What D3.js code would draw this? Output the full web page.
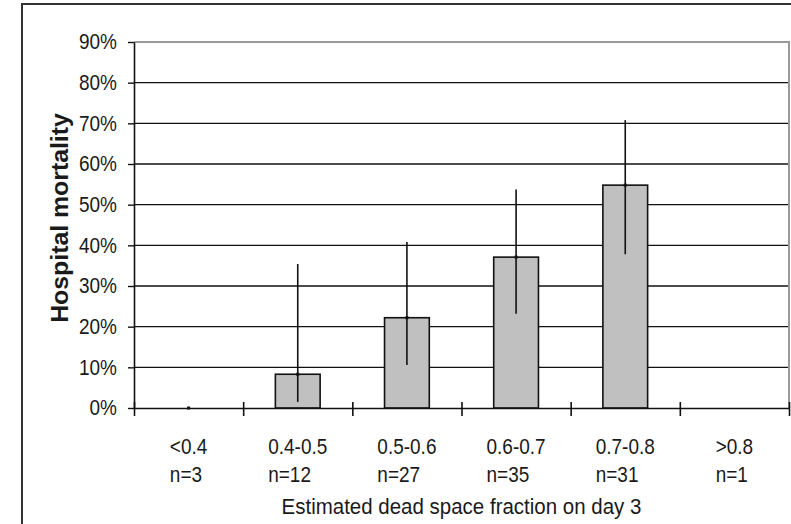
<!DOCTYPE html>
<html>
<head>
<meta charset="utf-8">
<script src="https://cdn.jsdelivr.net/npm/d3@7"></script>
<style>
  html, body { margin: 0; padding: 0; background: #fff; }
  svg { display: block; }
  text { font-family: "Liberation Sans", Arial, sans-serif; fill: #1a1a1a; }
  /* slightly tall lettering, stretched about each label's own box */
  text.tall { transform-box: fill-box; transform-origin: center; transform: scaleY(1.12); }
</style>
</head>
<body>
<script>
// Hospital mortality by estimated dead space fraction (day 3), with 95% CI
const categories = ["<0.4", "0.4-0.5", "0.5-0.6", "0.6-0.7", "0.7-0.8", ">0.8"];
const counts = [3, 12, 27, 35, 31, 1];
const mortality = [0, 8.3, 22.2, 37.1, 54.8, 0];      // percent
const ciLow = [0, 1.5, 10.6, 23.2, 37.8, null];        // percent
const ciHigh = [0, 35.4, 40.8, 53.7, 70.8, null];      // percent
const yTicks = [0, 10, 20, 30, 40, 50, 60, 70, 80, 90];
const yTitle = "Hospital mortality";
const xTitle = "Estimated dead space fraction on day 3";

const W = 791, H = 524;
const plot = { left: 134, right: 789, top: 42, bottom: 408 };

const svg = d3.select("body").append("svg")
  .attr("width", W).attr("height", H);

// outer chart frame (runs past the right and bottom edges)
svg.append("rect")
  .attr("x", 22).attr("y", 4)
  .attr("width", 820).attr("height", 560)
  .attr("fill", "none").attr("stroke", "#333").attr("stroke-width", 2);

const x = d3.scaleBand()
  .domain(categories)
  .range([plot.left, plot.right])
  .paddingInner(0.59)
  .paddingOuter(0.295);

const y = d3.scaleLinear()
  .domain([0, 90])
  .range([plot.bottom, plot.top]);

const cx = c => x(c) + x.bandwidth() / 2;

// horizontal gridlines
svg.append("g")
  .selectAll("line")
  .data(yTicks.filter(t => t > 0 && t < 90))
  .join("line")
  .attr("x1", plot.left).attr("x2", plot.right)
  .attr("y1", d => y(d)).attr("y2", d => y(d))
  .attr("stroke", "#111").attr("stroke-width", 1.4);

// plot area border (top and right)
svg.append("path")
  .attr("d", `M${plot.left},${y(90)}H${plot.right}V${y(0)}`)
  .attr("fill", "none").attr("stroke", "#9a9a9a").attr("stroke-width", 2);

// bars
svg.append("g")
  .selectAll("rect")
  .data(categories)
  .join("rect")
  .attr("x", d => x(d))
  .attr("width", x.bandwidth())
  .attr("y", (d, i) => y(mortality[i]))
  .attr("height", (d, i) => y(0) - y(mortality[i]))
  .attr("fill", "#c0c0c0")
  .attr("stroke", "#111").attr("stroke-width", 1.6);

// confidence interval lines
const ciIdx = categories.map((c, i) => i).filter(i => ciLow[i] !== null);
svg.append("g")
  .selectAll("line")
  .data(ciIdx)
  .join("line")
  .attr("x1", i => cx(categories[i])).attr("x2", i => cx(categories[i]))
  .attr("y1", i => y(ciLow[i])).attr("y2", i => y(ciHigh[i]))
  .attr("stroke", "#111").attr("stroke-width", 1.6);

// point markers at the mortality value
svg.append("g")
  .selectAll("rect")
  .data(ciIdx)
  .join("rect")
  .attr("x", i => cx(categories[i]) - 1.5)
  .attr("y", i => y(mortality[i]) - 1.5)
  .attr("width", 3).attr("height", 3)
  .attr("fill", "#111");

// y axis
const yAxis = svg.append("g")
  .attr("transform", `translate(${plot.left},0)`)
  .call(d3.axisLeft(y).tickValues(yTicks).tickSize(6).tickSizeOuter(0)
    .tickPadding(11).tickFormat(d => d + "%"));
yAxis.select(".domain").attr("stroke", "#111").attr("stroke-width", 1.6);
yAxis.selectAll(".tick line").attr("stroke", "#111").attr("stroke-width", 1.4);
yAxis.selectAll(".tick text")
  .attr("class", "tall")
  .style("font-size", "19px")
  .style("font-family", "'Liberation Sans', Arial, sans-serif")
  .attr("fill", "#1a1a1a");

// x axis with tick marks at the category boundaries
const xb = d3.scaleLinear().domain([0, categories.length]).range([plot.left, plot.right]);
const xAxis = svg.append("g")
  .attr("transform", `translate(0,${plot.bottom})`)
  .call(d3.axisBottom(xb).tickValues(d3.range(categories.length + 1))
    .tickSize(8).tickSizeOuter(0).tickFormat(""));
xAxis.select(".domain").attr("stroke", "#111").attr("stroke-width", 1.6);
xAxis.selectAll(".tick line").attr("y1", -6).attr("stroke", "#111").attr("stroke-width", 1.6);

// two-line category labels: left-aligned lines, block centred on the category
const labelG = svg.append("g").style("font-size", "19px");
categories.forEach((c, i) => {
  const g = labelG.append("g");
  const t1 = g.append("text").attr("class", "tall").attr("y", 453).text(c);
  const t2 = g.append("text").attr("class", "tall").attr("y", 481).text("n=" + counts[i]);
  const w = Math.max(t1.node().getComputedTextLength(), t2.node().getComputedTextLength());
  const left = cx(c) - w / 2;
  t1.attr("x", left);
  t2.attr("x", left);
});

// axis titles
svg.append("text")
  .attr("class", "tall")
  .attr("x", (plot.left + plot.right) / 2).attr("y", 513)
  .attr("text-anchor", "middle")
  .style("font-size", "20.5px")
  .text(xTitle);

svg.append("text")
  .attr("transform", "translate(68,218) rotate(-90) scale(1.08,1)")
  .attr("text-anchor", "middle")
  .style("font-size", "23px").style("font-weight", "bold")
  .text(yTitle);
</script>
</body>
</html>
